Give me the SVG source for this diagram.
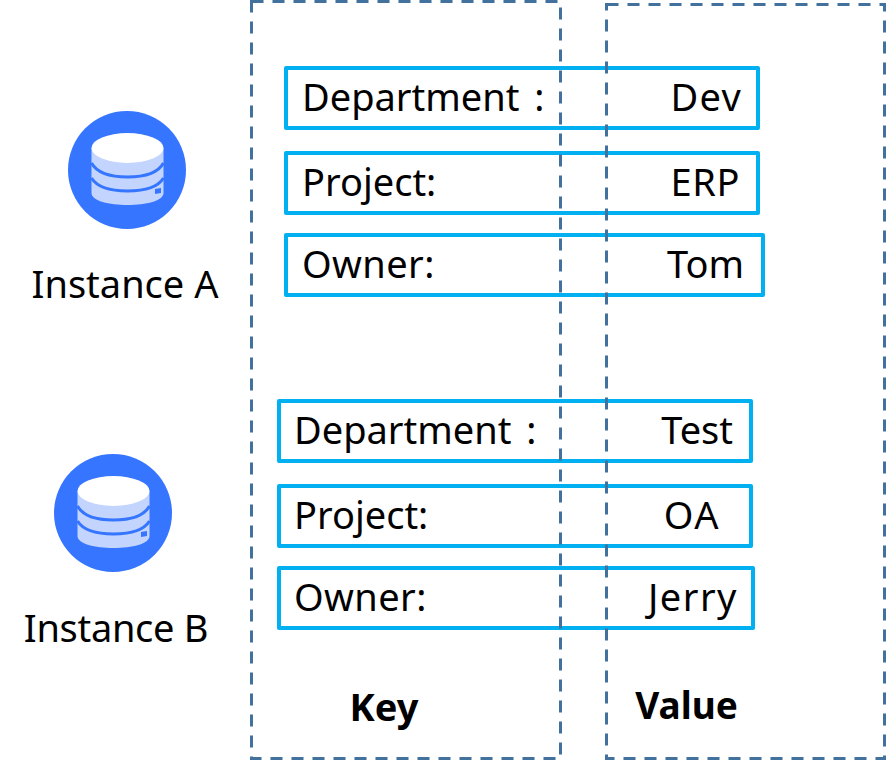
<svg xmlns="http://www.w3.org/2000/svg" width="886" height="761" viewBox="0 0 886 761">
<defs>
<style>
text{font-family:"Noto Sans","Open Sans","Liberation Sans",sans-serif;font-size:38px;fill:#000}
.tag{fill:#fff;stroke:#00b0f0;stroke-width:4;stroke-linejoin:round}
.col{fill:none;stroke:#41719c;stroke-width:3;stroke-dasharray:12 9}
.b{font-weight:700}
.m{text-anchor:middle}
.e{text-anchor:end}
.d{word-spacing:5px}
</style>
<g id="db">
<circle cx="0" cy="0" r="59" fill="#3575ff"/>
<path d="M-35.500-22V23C-35.500 31-18 35 0.500 35S36.500 31 36.500 23V-22Z" fill="#c3d5ff"/>
<ellipse cx="0.500" cy="-22" rx="36" ry="15" fill="#fff"/>
<path d="M-35.500-7C-30 3-16 7 0.500 7S31 3 36.500-7M-35.500 8C-30 17-16 21 0.500 21S31 17 36.500 8" fill="none" stroke="#3575ff" stroke-width="3"/>
<path d="M28 19L34 18V23L28 24Z" fill="#3575ff"/>
</g>
</defs>
<rect width="886" height="761" fill="#fff"/>
<g id="instance-a"><use href="#db" x="127" y="170"/><text x="125" y="298" class="m">Instance A</text></g>
<g id="instance-b"><use href="#db" x="113" y="513"/><text x="116" y="642" class="m" style="letter-spacing:-.3px">Instance B</text></g>
<g id="tag-a1"><rect class="tag" x="286" y="68" width="472" height="60"/><text x="302" y="111" class="d">Department :</text><text x="742" y="111" class="e" style="letter-spacing:1.300px">Dev</text></g>
<g id="tag-a2"><rect class="tag" x="286" y="153" width="472" height="60"/><text x="302" y="196">Project:</text><text x="740" y="196" class="e" style="letter-spacing:.6px">ERP</text></g>
<g id="tag-a3"><rect class="tag" x="286" y="235" width="477" height="60"/><text x="302" y="278" style="letter-spacing:.4px">Owner:</text><text x="744" y="278" class="e">Tom</text></g>
<g id="tag-b1"><rect class="tag" x="279" y="401" width="472" height="60"/><text x="294" y="444" class="d">Department :</text><text x="733" y="444" class="e">Test</text></g>
<g id="tag-b2"><rect class="tag" x="279" y="486" width="472" height="60"/><text x="294" y="529">Project:</text><text x="720" y="529" class="e" style="letter-spacing:1.500px">OA</text></g>
<g id="tag-b3"><rect class="tag" x="279" y="568" width="474" height="60"/><text x="294" y="611" style="letter-spacing:.4px">Owner:</text><text x="738" y="611" class="e" style="letter-spacing:1.500px">Jerry</text></g>
<g id="column-key"><rect class="col" x="251.500" y="1.500" width="309" height="757"/><text x="384" y="721" class="b m">Key</text></g>
<g id="column-value"><rect class="col" x="606.500" y="4.500" width="278" height="754"/><text x="686.500" y="719" class="b m" style="font-size:37px">Value</text></g>
<g id="connectors"/>
</svg>
